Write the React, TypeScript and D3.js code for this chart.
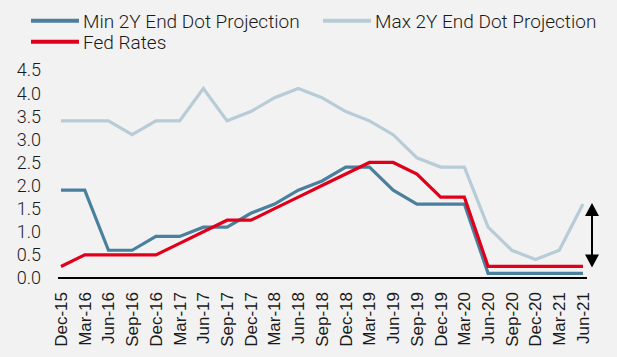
import React from "react";
import * as d3 from "d3";

const categories = ["Dec-15","Mar-16","Jun-16","Sep-16","Dec-16","Mar-17","Jun-17","Sep-17","Dec-17","Mar-18","Jun-18","Sep-18","Dec-18","Mar-19","Jun-19","Sep-19","Dec-19","Mar-20","Jun-20","Sep-20","Dec-20","Mar-21","Jun-21"];
const minDots = [1.9,1.9,0.6,0.6,0.9,0.9,1.1,1.1,1.4,1.6,1.9,2.1,2.4,2.4,1.9,1.6,1.6,1.6,0.1,0.1,0.1,0.1,0.1];
const maxDots = [3.4,3.4,3.4,3.1,3.4,3.4,4.1,3.4,3.6,3.9,4.1,3.9,3.6,3.4,3.1,2.6,2.4,2.4,1.1,0.6,0.4,0.6,1.6];
const fedRates = [0.25,0.5,0.5,0.5,0.5,0.75,1.0,1.25,1.25,1.5,1.75,2.0,2.25,2.5,2.5,2.25,1.75,1.75,0.25,0.25,0.25,0.25,0.25];
const yTicks = [0,0.5,1,1.5,2,2.5,3,3.5,4,4.5];
const arrowRange = [0.25, 1.6];

const W = 617, H = 357;
const C_MIN = "#4a809e";
const C_MAX = "#b7ccd6";
const C_FED = "#e0001b";

export default function App() {
  const x = d3.scalePoint<string>().domain(categories).range([61, 583]);
  const y = d3.scaleLinear().domain([0, 4.5]).range([278, 70]);
  const line = d3.line<number>().x((_, i) => x(categories[i])!).y((d) => y(d));
  const series = [
    { name: "Max 2Y End Dot Projection", data: maxDots, color: C_MAX },
    { name: "Min 2Y End Dot Projection", data: minDots, color: C_MIN },
    { name: "Fed Rates", data: fedRates, color: C_FED },
  ];
  const fmt = d3.format(".1f");
  const ax = 592;
  const aTop = y(arrowRange[1]);
  const aBot = y(arrowRange[0]);
  const legend = [
    { name: "Min 2Y End Dot Projection", color: C_MIN, x: 31, y: 20.7 },
    { name: "Max 2Y End Dot Projection", color: C_MAX, x: 323, y: 20.7 },
    { name: "Fed Rates", color: C_FED, x: 31, y: 41.7 },
  ];
  return (
    <svg width={W} height={H} style={{ position: "absolute", left: 0, top: 0, background: "#f2f2f2" }}>
      <rect width={W} height={H} fill="#f2f2f2" />
      {legend.map((l) => (
        <g key={l.name}>
          <line x1={l.x} x2={l.x + 48} y1={l.y} y2={l.y} stroke={l.color} strokeWidth={4} />
          <text x={l.x + 52} y={l.y} dy="0.36em" fontFamily="Roboto" fontWeight={300} fontSize={19} fill="#1a1a1a">{l.name}</text>
        </g>
      ))}
      {yTicks.map((t) => (
        <text key={t} x={41} y={y(t)} dy="0.36em" textAnchor="end" fontFamily="Roboto" fontWeight={300} fontSize={18} fill="#1a1a1a">{fmt(t)}</text>
      ))}
      {series.map((s) => (
        <path key={s.name} d={line(s.data)!} fill="none" stroke={s.color} strokeWidth={3.2} strokeLinejoin="miter" />
      ))}
      <line x1={58} x2={587} y1={y(0)} y2={y(0)} stroke="#000" strokeWidth={2} />
      {categories.map((c) => (
        <text key={c} transform={`translate(${x(c)},292) rotate(-90)`} dy="0.35em" textAnchor="end" fontFamily="Liberation Sans, Arial" fontSize={17} fill="#1a1a1a">{c}</text>
      ))}
      <line x1={ax} x2={ax} y1={aTop + 10} y2={aBot - 10} stroke="#000" strokeWidth={2} />
      <path d={`M${ax},${aTop - 1} L${ax - 7},${aTop + 12} L${ax + 7},${aTop + 12} Z`} fill="#000" />
      <path d={`M${ax},${aBot + 1} L${ax - 7},${aBot - 12} L${ax + 7},${aBot - 12} Z`} fill="#000" />
    </svg>
  );
}
